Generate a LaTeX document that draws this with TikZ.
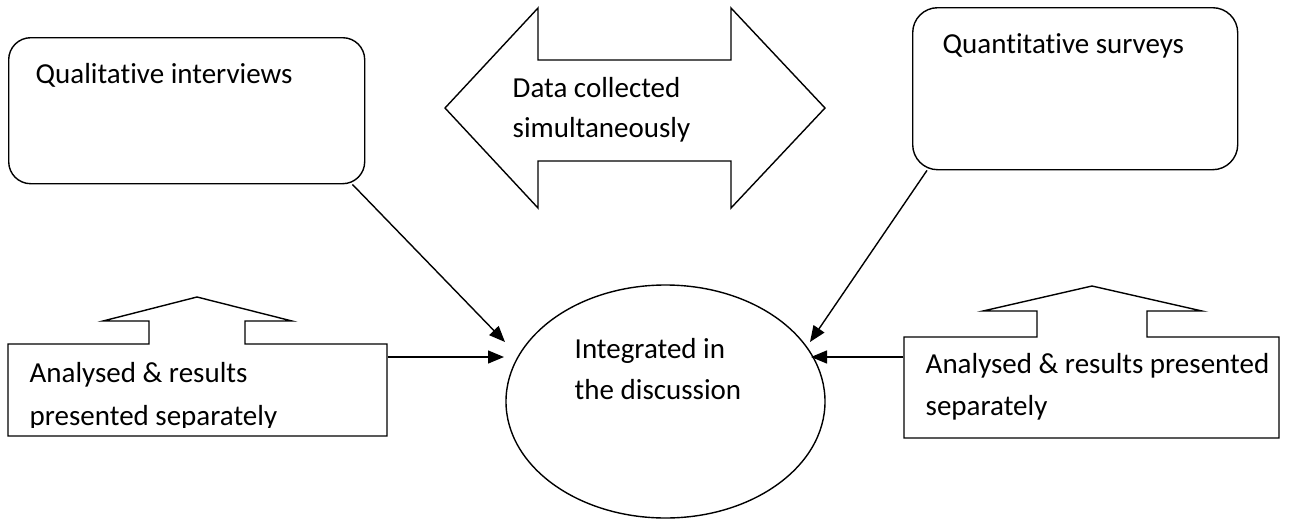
\documentclass[tikz,border=0pt]{standalone}
\usepackage{fontspec}
\setmainfont[Ligatures=NoCommon]{Carlito}
\usetikzlibrary{arrows.meta,shapes.geometric,calc}
\begin{document}
\begin{tikzpicture}[x=1pt,y=-1pt, line width=1.4pt, line join=miter,
  txt/.style={anchor=base west, inner sep=0, font=\fontsize{29}{40}\selectfont},
  arr/.style={-{Triangle[length=16pt,width=13pt]}},
  rbox/.style={draw, rounded corners=22pt, inner sep=0, anchor=north west},
  ]
\useasboundingbox (0,0) rectangle (1307,520);

% rounded boxes
\node[rbox, minimum width=356, minimum height=146] (qual) at (8,37) {};
\node[rbox, minimum width=325, minimum height=162, rounded corners=25pt] (quan) at (912,7) {};
\node[txt] (qualt) at (35,83) {Qualitative interviews};
\node[txt] (quant) at (942,53) {Quantitative surveys};

% double arrow
\draw (445,108) -- (538,8) -- (538,60) -- (731,60) -- (731,8) -- (825,108)
      -- (731,208) -- (731,161) -- (538,161) -- (538,208) -- cycle;
\node[txt] (dat1) at (512,97) {Data collected};
\node[txt] (dat2) at (512,137) {simultaneously};

% ellipse
\node[draw, ellipse, inner sep=0, minimum width=319, minimum height=233] (ell) at (665.5,401.5) {};
\node[txt] (int1) at (574,358) {Integrated in};
\node[txt] (int2) at (574,399) {the discussion};

% left analysed box with up arrow
\node[inner sep=0, minimum width=379, minimum height=92] (lb) at (197.5,390) {};
\draw (8,436) -- (8,344) -- (149,344) -- (149,321) -- (103,321) -- (197,297)
      -- (292,321) -- (245,321) -- (245,344) -- (387,344) -- (387,436) -- cycle;
\node[txt] (lbt1) at (29,382) {Analysed \& results};
\begin{scope}
\clip (8,330) rectangle (387,427.5);
\node[txt] (lbt2) at (29,425) {presented separately};
\end{scope}

% right analysed box with up arrow
\node[inner sep=0, minimum width=375, minimum height=101] (rb) at (1091.5,387.5) {};
\draw (904,438) -- (904,337) -- (1037,337) -- (1037,311) -- (983,311) -- (1092,286)
      -- (1202,311) -- (1147,311) -- (1147,337) -- (1279,337) -- (1279,438) -- cycle;
\node[txt] (rbt1) at (925,373) {Analysed \& results presented};
\node[txt] (rbt2) at (925,415) {separately};

% arrow end points near the ellipse
\coordinate (e1) at (505,342);
\coordinate (e2) at (504,357);
\coordinate (e3) at (810,342);
\coordinate (e4) at (811,357);

\draw[arr] ($(qual.south east)+(-13,0)$) -- (e1);
\draw[arr] ($(quan.south west)+(15,0)$) -- (e3);
\draw[arr] (lb.east |- e2) -- (e2);
\draw[arr] (rb.west |- e4) -- (e4);
\end{tikzpicture}
\end{document}
